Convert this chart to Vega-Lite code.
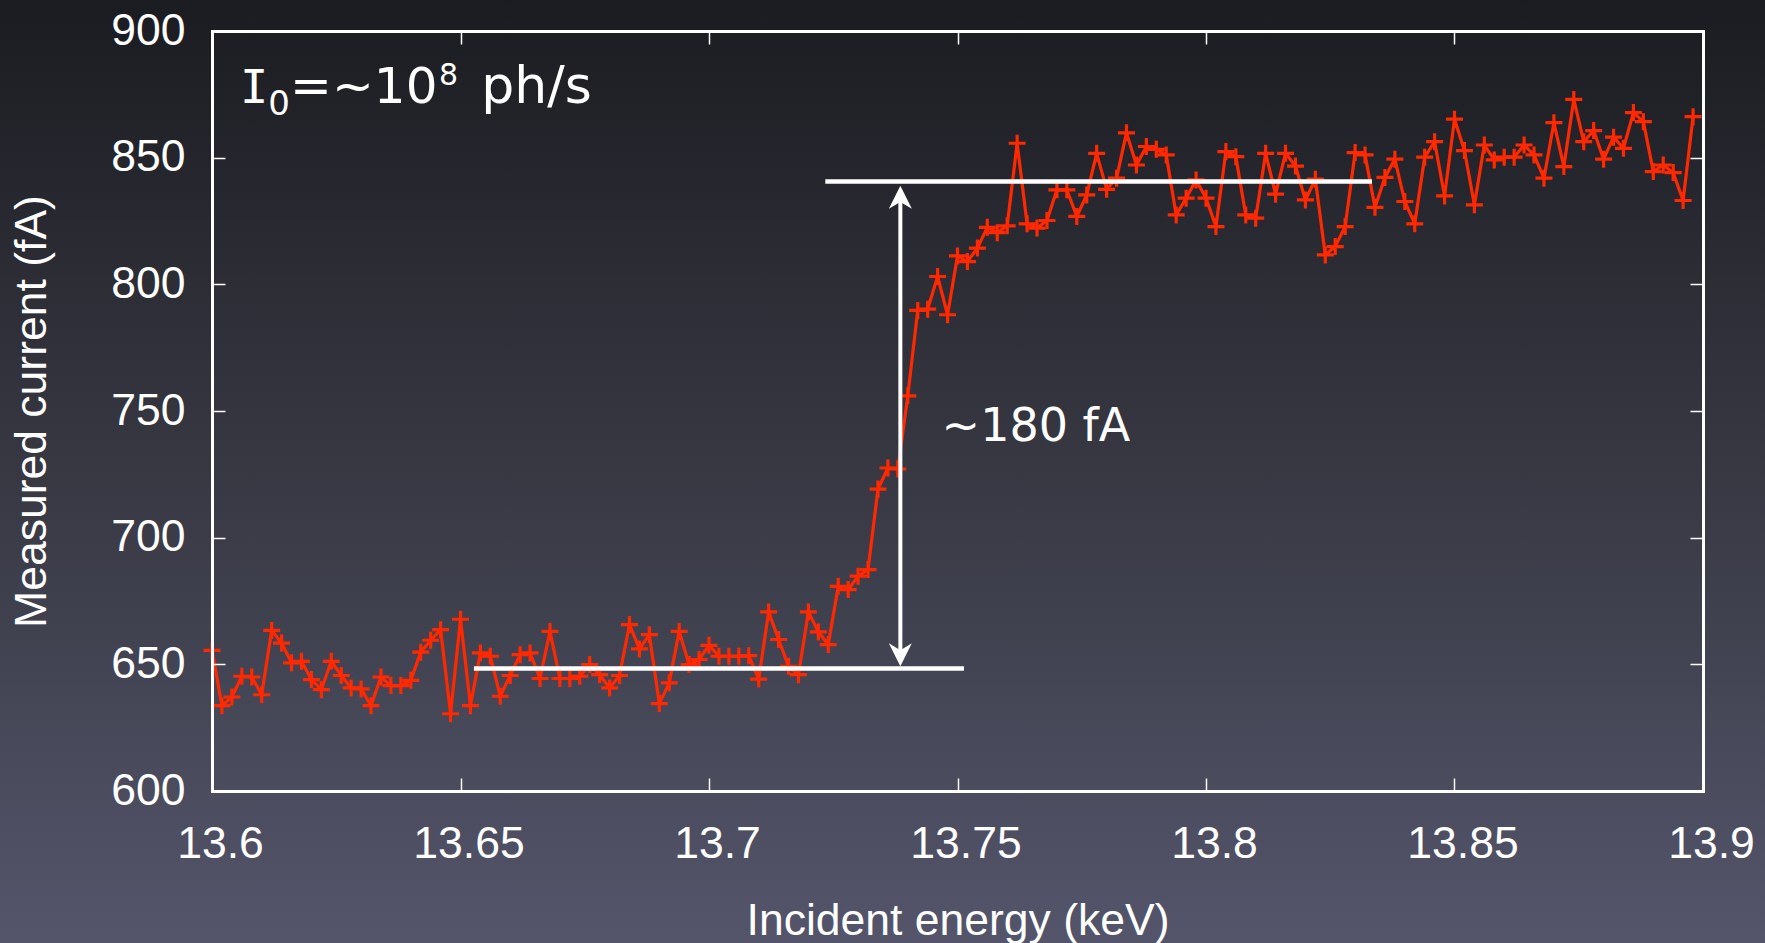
{
  "$schema": "https://vega.github.io/schema/vega-lite/v6.json",
  "width": 1491,
  "height": 760,
  "autosize": {"type": "none"},
  "padding": {"left": 212, "top": 31, "right": 62, "bottom": 152},
  "background": "#3a3b46",
  "datasets": {
    "scan": [
      {"E": 13.600, "I": 655.5}, {"E": 13.602, "I": 633.7}, {"E": 13.604, "I": 637.1}, {"E": 13.606, "I": 645.3},
      {"E": 13.608, "I": 645.0}, {"E": 13.610, "I": 638.0}, {"E": 13.612, "I": 663.4}, {"E": 13.614, "I": 658.4},
      {"E": 13.616, "I": 650.6}, {"E": 13.618, "I": 651.2}, {"E": 13.620, "I": 644.0}, {"E": 13.622, "I": 640.0},
      {"E": 13.624, "I": 651.2}, {"E": 13.626, "I": 645.6}, {"E": 13.628, "I": 640.7}, {"E": 13.630, "I": 640.3},
      {"E": 13.632, "I": 633.7}, {"E": 13.634, "I": 645.0}, {"E": 13.636, "I": 641.6}, {"E": 13.638, "I": 641.6},
      {"E": 13.640, "I": 643.7}, {"E": 13.642, "I": 654.8}, {"E": 13.644, "I": 659.5}, {"E": 13.646, "I": 663.7},
      {"E": 13.648, "I": 630.5}, {"E": 13.650, "I": 667.8}, {"E": 13.652, "I": 633.7}, {"E": 13.654, "I": 654.5},
      {"E": 13.656, "I": 653.2}, {"E": 13.658, "I": 637.4}, {"E": 13.660, "I": 645.6}, {"E": 13.662, "I": 653.8},
      {"E": 13.664, "I": 654.5}, {"E": 13.666, "I": 644.4}, {"E": 13.668, "I": 663.0}, {"E": 13.670, "I": 644.4},
      {"E": 13.672, "I": 644.4}, {"E": 13.674, "I": 645.3}, {"E": 13.676, "I": 649.9}, {"E": 13.678, "I": 645.9},
      {"E": 13.680, "I": 640.7}, {"E": 13.682, "I": 645.6}, {"E": 13.684, "I": 665.7}, {"E": 13.686, "I": 656.1},
      {"E": 13.688, "I": 661.7}, {"E": 13.690, "I": 634.5}, {"E": 13.692, "I": 642.7}, {"E": 13.694, "I": 663.0},
      {"E": 13.696, "I": 649.9}, {"E": 13.698, "I": 651.9}, {"E": 13.700, "I": 657.5}, {"E": 13.702, "I": 653.2},
      {"E": 13.704, "I": 653.2}, {"E": 13.706, "I": 653.2}, {"E": 13.708, "I": 653.4}, {"E": 13.710, "I": 644.2},
      {"E": 13.712, "I": 670.7}, {"E": 13.714, "I": 659.8}, {"E": 13.716, "I": 649.2}, {"E": 13.718, "I": 645.9},
      {"E": 13.720, "I": 670.7}, {"E": 13.722, "I": 662.8}, {"E": 13.724, "I": 657.8}, {"E": 13.726, "I": 680.8},
      {"E": 13.728, "I": 679.5}, {"E": 13.730, "I": 684.8}, {"E": 13.732, "I": 687.4}, {"E": 13.734, "I": 719.2},
      {"E": 13.736, "I": 727.5}, {"E": 13.738, "I": 727.1}, {"E": 13.740, "I": 756.0}, {"E": 13.742, "I": 789.7},
      {"E": 13.744, "I": 790.2}, {"E": 13.746, "I": 803.1}, {"E": 13.748, "I": 788.0}, {"E": 13.750, "I": 811.2},
      {"E": 13.752, "I": 809.0}, {"E": 13.754, "I": 814.3}, {"E": 13.756, "I": 822.5}, {"E": 13.758, "I": 820.4},
      {"E": 13.760, "I": 823.1}, {"E": 13.762, "I": 855.7}, {"E": 13.764, "I": 823.9}, {"E": 13.766, "I": 822.2},
      {"E": 13.768, "I": 825.2}, {"E": 13.770, "I": 837.3}, {"E": 13.772, "I": 837.3}, {"E": 13.774, "I": 826.8},
      {"E": 13.776, "I": 835.3}, {"E": 13.778, "I": 851.7}, {"E": 13.780, "I": 837.5}, {"E": 13.782, "I": 841.9},
      {"E": 13.784, "I": 859.8}, {"E": 13.786, "I": 847.1}, {"E": 13.788, "I": 854.4}, {"E": 13.790, "I": 853.3},
      {"E": 13.792, "I": 851.1}, {"E": 13.794, "I": 827.4}, {"E": 13.796, "I": 834.0}, {"E": 13.798, "I": 841.2},
      {"E": 13.800, "I": 834.0}, {"E": 13.802, "I": 822.8}, {"E": 13.804, "I": 852.4}, {"E": 13.806, "I": 850.4},
      {"E": 13.808, "I": 827.4}, {"E": 13.810, "I": 826.1}, {"E": 13.812, "I": 851.7}, {"E": 13.814, "I": 835.6},
      {"E": 13.816, "I": 851.7}, {"E": 13.818, "I": 846.7}, {"E": 13.820, "I": 833.3}, {"E": 13.822, "I": 841.5},
      {"E": 13.824, "I": 811.6}, {"E": 13.826, "I": 814.9}, {"E": 13.828, "I": 822.8}, {"E": 13.830, "I": 852.0},
      {"E": 13.832, "I": 851.1}, {"E": 13.834, "I": 830.4}, {"E": 13.836, "I": 842.2}, {"E": 13.838, "I": 849.4},
      {"E": 13.840, "I": 832.7}, {"E": 13.842, "I": 823.9}, {"E": 13.844, "I": 850.2}, {"E": 13.846, "I": 856.3},
      {"E": 13.848, "I": 834.9}, {"E": 13.850, "I": 865.2}, {"E": 13.852, "I": 852.8}, {"E": 13.854, "I": 831.4},
      {"E": 13.856, "I": 855.0}, {"E": 13.858, "I": 849.1}, {"E": 13.860, "I": 850.2}, {"E": 13.862, "I": 850.2},
      {"E": 13.864, "I": 855.0}, {"E": 13.866, "I": 851.1}, {"E": 13.868, "I": 841.9}, {"E": 13.870, "I": 863.8},
      {"E": 13.872, "I": 846.5}, {"E": 13.874, "I": 873.0}, {"E": 13.876, "I": 856.3}, {"E": 13.878, "I": 860.7},
      {"E": 13.880, "I": 849.4}, {"E": 13.882, "I": 858.1}, {"E": 13.884, "I": 853.7}, {"E": 13.886, "I": 867.8},
      {"E": 13.888, "I": 864.2}, {"E": 13.890, "I": 844.5}, {"E": 13.892, "I": 847.1}, {"E": 13.894, "I": 844.1},
      {"E": 13.896, "I": 833.1}, {"E": 13.898, "I": 866.2}
    ]
  },
  "data": {"name": "scan"},
  "layer": [
    {
      "data": {"values": [{}]},
      "mark": {"type": "rect", "fill": {"gradient": "linear", "x1": 0, "y1": 0, "x2": 0, "y2": 1, "stops": [{"offset": 0, "color": "#1b1c21"}, {"offset": 0.5, "color": "#373842"}, {"offset": 1, "color": "#54556b"}]}},
      "encoding": {
        "x": {"datum": 13.55, "type": "quantitative", "scale": {"domain": [13.6, 13.9], "nice": false, "zero": false}, "axis": null},
        "x2": {"datum": 13.92},
        "y": {"datum": 540, "type": "quantitative", "scale": {"domain": [600, 900], "nice": false, "zero": false}, "axis": null},
        "y2": {"datum": 912.4}
      }
    },
    {
      "mark": {"type": "line", "color": "#ff2800", "strokeWidth": 3.2},
      "encoding": {
        "x": {"field": "E", "type": "quantitative", "scale": {"domain": [13.6, 13.9], "nice": false, "zero": false},
              "axis": {"orient": "bottom", "zindex": 1, "values": [13.6, 13.65, 13.7, 13.75, 13.8, 13.85, 13.9], "format": "~g", "title": "Incident energy (keV)", "labelFlush": false, "labelPadding": 44, "labelOffset": 8, "titlePadding": 34}},
        "y": {"field": "I", "type": "quantitative", "scale": {"domain": [600, 900], "nice": false, "zero": false},
              "axis": {"orient": "left", "zindex": 1, "values": [600, 650, 700, 750, 800, 850, 900], "title": "Measured current (fA)", "labelPadding": 40, "titlePadding": 56}}
      }
    },
    {
      "mark": {"type": "point", "shape": "M-1,0L1,0M0,-1L0,1", "size": 289, "strokeWidth": 3.2, "filled": false, "color": "#ff2800", "opacity": 1},
      "encoding": {
        "x": {"field": "E", "type": "quantitative", "scale": {"domain": [13.6, 13.9], "nice": false, "zero": false},
              "axis": {"orient": "top", "zindex": 1, "values": [13.6, 13.65, 13.7, 13.75, 13.8, 13.85, 13.9], "labels": false, "title": null}},
        "y": {"field": "I", "type": "quantitative", "scale": {"domain": [600, 900], "nice": false, "zero": false},
              "axis": {"orient": "right", "zindex": 1, "values": [600, 650, 700, 750, 800, 850, 900], "labels": false, "title": null}}
      }
    },
    {
      "data": {"values": [{}]},
      "mark": {"type": "rule", "color": "#ffffff", "strokeWidth": 4.5},
      "encoding": {
        "x": {"datum": 13.6527, "type": "quantitative", "axis": null},
        "x2": {"datum": 13.7513},
        "y": {"datum": 648.4, "type": "quantitative", "axis": null}
      }
    },
    {
      "data": {"values": [{}]},
      "mark": {"type": "rule", "color": "#ffffff", "strokeWidth": 4.5},
      "encoding": {
        "x": {"datum": 13.7234, "type": "quantitative", "axis": null},
        "x2": {"datum": 13.8334},
        "y": {"datum": 840.6, "type": "quantitative", "axis": null}
      }
    },
    {
      "data": {"values": [{}]},
      "mark": {"type": "rule", "color": "#ffffff", "strokeWidth": 4},
      "encoding": {
        "x": {"datum": 13.7385, "type": "quantitative", "axis": null},
        "y": {"datum": 654, "type": "quantitative", "axis": null},
        "y2": {"datum": 834}
      }
    },
    {
      "data": {"values": [{}]},
      "mark": {"type": "point", "shape": "M0,0L-0.5,1L0,0.7L0.5,1Z", "size": 2116, "filled": true, "color": "#ffffff", "opacity": 1, "strokeWidth": 0},
      "encoding": {
        "x": {"datum": 13.7385, "type": "quantitative", "axis": null},
        "y": {"datum": 838.9, "type": "quantitative", "axis": null}
      }
    },
    {
      "data": {"values": [{}]},
      "mark": {"type": "point", "shape": "M0,0L-0.5,-1L0,-0.7L0.5,-1Z", "size": 2116, "filled": true, "color": "#ffffff", "opacity": 1, "strokeWidth": 0},
      "encoding": {
        "x": {"datum": 13.7385, "type": "quantitative", "axis": null},
        "y": {"datum": 649.2, "type": "quantitative", "axis": null}
      }
    },
    {
      "data": {"values": [{}]},
      "mark": {"type": "text", "text": "~180 fA", "font": "DejaVu Sans", "fontSize": 46, "color": "#ffffff", "align": "left", "baseline": "alphabetic"},
      "encoding": {
        "x": {"datum": 13.7468, "type": "quantitative", "axis": null},
        "y": {"datum": 738.3, "type": "quantitative", "axis": null}
      }
    },
    {
      "data": {"values": [{}]},
      "mark": {"type": "text", "text": "I", "font": "DejaVu Sans Mono", "fontSize": 47, "color": "#ffffff", "align": "center", "baseline": "alphabetic"},
      "encoding": {
        "x": {"datum": 13.60846, "type": "quantitative", "axis": null},
        "y": {"datum": 871.72, "type": "quantitative", "axis": null}
      }
    },
    {
      "data": {"values": [{}]},
      "mark": {"type": "text", "text": "0", "font": "DejaVu Sans", "fontSize": 34, "color": "#ffffff", "align": "center", "baseline": "alphabetic"},
      "encoding": {
        "x": {"datum": 13.61349, "type": "quantitative", "axis": null},
        "y": {"datum": 866.86, "type": "quantitative", "axis": null}
      }
    },
    {
      "data": {"values": [{}]},
      "mark": {"type": "text", "text": "=~10", "font": "DejaVu Sans", "fontSize": 50, "color": "#ffffff", "align": "left", "baseline": "alphabetic"},
      "encoding": {
        "x": {"datum": 13.6157, "type": "quantitative", "axis": null},
        "y": {"datum": 871.72, "type": "quantitative", "axis": null}
      }
    },
    {
      "data": {"values": [{}]},
      "mark": {"type": "text", "text": "8", "font": "DejaVu Sans", "fontSize": 30, "color": "#ffffff", "align": "center", "baseline": "alphabetic"},
      "encoding": {
        "x": {"datum": 13.64762, "type": "quantitative", "axis": null},
        "y": {"datum": 878.7, "type": "quantitative", "axis": null}
      }
    },
    {
      "data": {"values": [{}]},
      "mark": {"type": "text", "text": "ph/s", "font": "DejaVu Sans", "fontSize": 52, "color": "#ffffff", "align": "left", "baseline": "alphabetic"},
      "encoding": {
        "x": {"datum": 13.65416, "type": "quantitative", "axis": null},
        "y": {"datum": 871.72, "type": "quantitative", "axis": null}
      }
    }
  ],
  "resolve": {"axis": {"x": "independent", "y": "independent"}},
  "config": {
    "view": {"stroke": null},
    "axis": {
      "grid": false,
      "domainColor": "#ffffff",
      "domainWidth": 3,
      "domainCap": "square",
      "tickColor": "#ffffff",
      "tickWidth": 1.5,
      "tickSize": -13,
      "labelColor": "#ffffff",
      "labelFont": "Liberation Sans",
      "labelFontSize": 44.5,
      "titleColor": "#ffffff",
      "titleFont": "Liberation Sans",
      "titleFontSize": 44.5,
      "titleFontWeight": "normal"
    }
  }
}
